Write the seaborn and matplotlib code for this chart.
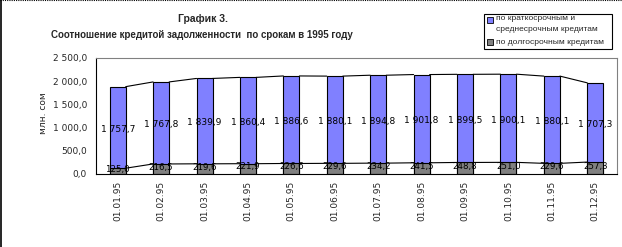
import matplotlib
matplotlib.use("Agg")
import matplotlib.pyplot as plt
import seaborn as sns
import pandas as pd
from matplotlib.patches import Rectangle
from matplotlib.lines import Line2D

dates = ["01.01.95", "01.02.95", "01.03.95", "01.04.95", "01.05.95", "01.06.95",
         "01.07.95", "01.08.95", "01.09.95", "01.10.95", "01.11.95", "01.12.95"]
short_term = [1757.7, 1767.8, 1839.9, 1860.4, 1886.6, 1880.1,
              1894.8, 1901.8, 1899.5, 1900.1, 1880.1, 1707.3]
long_term = [125.0, 216.5, 219.6, 221.9, 226.6, 229.6,
             234.2, 241.5, 248.8, 251.0, 229.6, 257.3]
yticks = [0, 500, 1000, 1500, 2000, 2500]

label_short = "по краткосрочным и\nсреднесрочным кредитам"
label_long = "по долгосрочным кредитам"
title1 = "График 3."
title2 = "Соотношение кредитой задолженности  по срокам в 1995 году"
ylabel = "млн. сом"

BLUE = "#8080FF"
GRAY = "#808080"

def fmt(v):
    s = f"{v:,.1f}"
    return s.replace(",", " ").replace(".", ",")

sns.set_theme(style="white")
plt.rcParams["font.family"] = ["DejaVu Sans"]

df = pd.DataFrame({"date": dates, "short": short_term, "long": long_term})
df["total"] = df["short"] + df["long"]

fig = plt.figure(figsize=(6.22, 2.47), dpi=100)
ax = fig.add_axes([96 / 622, 1 - 174 / 247, (617 - 96) / 622, (174 - 58) / 247])

w = 0.37
sns.barplot(data=df, x="date", y="total", order=dates, color=BLUE, saturation=1,
            width=w, edgecolor="black", linewidth=0.8, ax=ax)
sns.barplot(data=df, x="date", y="long", order=dates, color=GRAY, saturation=1,
            width=w, edgecolor="black", linewidth=0.8, ax=ax)

# series lines
tot = df["total"].tolist()
for i in range(len(dates) - 1):
    ax.plot([i + w / 2, i + 1 - w / 2], [tot[i], tot[i + 1]], color="black", lw=0.8)
    ax.plot([i + w / 2, i + 1 - w / 2], [long_term[i], long_term[i + 1]], color="black", lw=0.8)

# data labels
for i in range(len(dates)):
    ax.text(i, (long_term[i] + tot[i]) / 2 - 40, fmt(short_term[i]), ha="center", va="center",
            fontsize=6.5, color="black")
    ax.text(i, long_term[i] / 2 + 40, fmt(long_term[i]), ha="center", va="center",
            fontsize=6.2, color="black")

ax.set_xlim(-0.5, len(dates) - 0.5)
ax.set_ylim(0, 2500)
ax.set_yticks(yticks)
ax.set_yticklabels([fmt(v) for v in yticks], fontsize=6.5)
ax.set_xticks(range(len(dates)))
ax.set_xticklabels(dates, rotation=90, fontsize=6.5)
ax.set_xticks([i - 0.5 for i in range(len(dates) + 1)], minor=True)
ax.tick_params(axis="x", which="major", length=0, pad=5)
ax.tick_params(axis="x", which="minor", length=4, width=0.8, direction="out", color="black")
ax.tick_params(axis="y", which="major", length=7, width=0.8, direction="inout", color="black", pad=3)
ax.set_xlabel("")
ax.set_ylabel("")
ax.grid(False)
for s in ["top", "right"]:
    ax.spines[s].set_color(GRAY)
    ax.spines[s].set_linewidth(0.8)
for s in ["left", "bottom"]:
    ax.spines[s].set_color("black")
    ax.spines[s].set_linewidth(0.8)

fig.text(43 / 622, 1 - 113 / 247, ylabel, rotation=90, ha="center", va="center", fontsize=6.5)

tfont = ["Liberation Sans Narrow", "Liberation Sans", "DejaVu Sans"]
fig.text(203 / 622, 1 - 19 / 247, title1, ha="center", va="center", fontsize=7.5,
         fontweight="bold", family=tfont)
fig.text(202 / 622, 1 - 35 / 247, title2, ha="center", va="center", fontsize=7,
         fontweight="bold", family=tfont)

# legend box
fig.add_artist(Rectangle((484 / 622, 1 - 49 / 247), (612 - 484) / 622, 35 / 247,
                         transform=fig.transFigure, facecolor="white", edgecolor="black", lw=0.8))
fig.add_artist(Rectangle((487 / 622, 1 - 23 / 247), 6 / 622, 6 / 247,
                         transform=fig.transFigure, facecolor=BLUE, edgecolor="black", lw=0.6))
fig.add_artist(Rectangle((487 / 622, 1 - 45 / 247), 6 / 622, 6 / 247,
                         transform=fig.transFigure, facecolor=GRAY, edgecolor="black", lw=0.6))
fig.text(496 / 622, 1 - 15 / 247, label_short, ha="left", va="top", fontsize=6,
         linespacing=1.75, family=tfont)
fig.text(496 / 622, 1 - 42 / 247, label_long, ha="left", va="center", fontsize=6,
         family=tfont)

# outer frame lines
fig.add_artist(Line2D([1 / 622, 1 / 622], [0, 1], transform=fig.transFigure, color="black", lw=1.2))
fig.add_artist(Line2D([0, 1], [1 - 0.5 / 247, 1 - 0.5 / 247], transform=fig.transFigure,
                      color="black", lw=0.8, ls=(0, (1, 1))))

fig.savefig("out.png", dpi=100)
